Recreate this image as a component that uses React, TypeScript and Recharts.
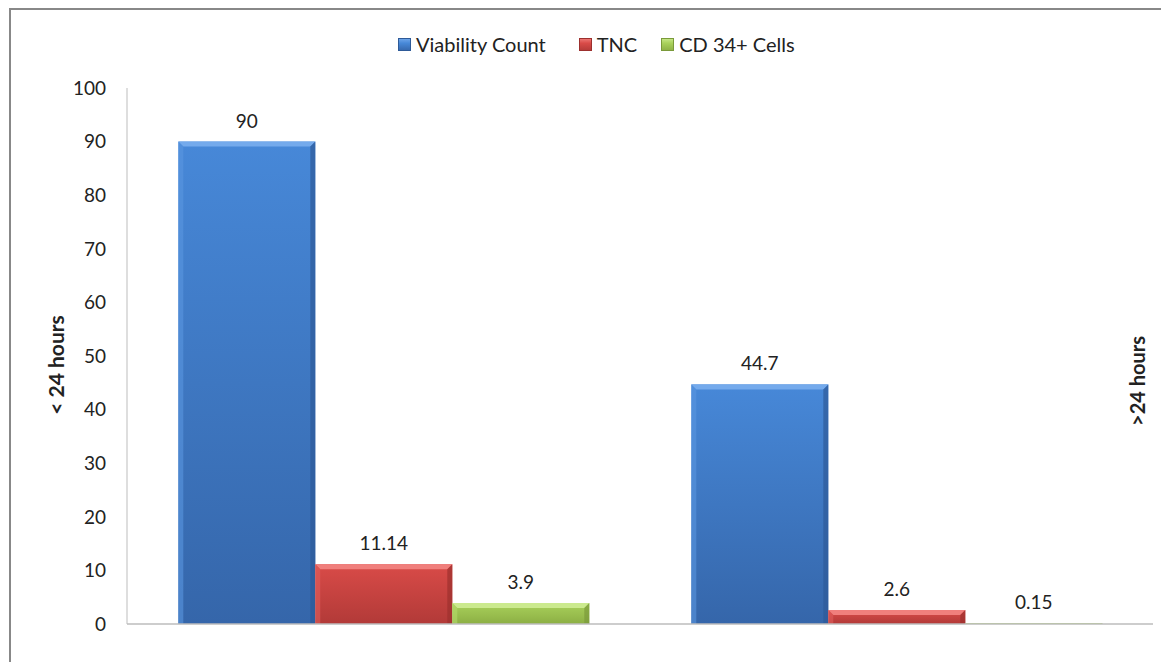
import { BarChart, Bar, XAxis, YAxis, LabelList } from "recharts";

const categories = ["< 24 hours", ">24 hours"];
const viabilityCount = [90, 44.7];
const tnc = [11.14, 2.6];
const cd34 = [3.9, 0.15];
const yTicks = [0, 10, 20, 30, 40, 50, 60, 70, 80, 90, 100];

const data = categories.map((name, i) => ({
  name,
  viability: viabilityCount[i],
  tnc: tnc[i],
  cd34: cd34[i],
}));

const palette = {
  blue: { top: "#4788D8", bottom: "#3566AA", bevel: "#74AAEC", left: "#5A96E0", right: "#2E5A98" },
  red: { top: "#D94B48", bottom: "#B23A38", bevel: "#F07F7C", left: "#E05E5B", right: "#9C302E" },
  green: { top: "#A9D15B", bottom: "#8CAF44", bevel: "#CBEA8E", left: "#B4DA6A", right: "#7A9A3A" },
};

type Shade = typeof palette.blue;

function BevelBar(props: any) {
  const { x, y, width, height, shade, gid } = props as {
    x: number; y: number; width: number; height: number; shade: Shade; gid: string;
  };
  if (!height || height <= 0) return null;
  const b = Math.min(5, height / 2, width / 2);
  return (
    <g>
      <rect x={x} y={y} width={width} height={height} fill={`url(#${gid})`} />
      <polygon
        points={`${x},${y} ${x + width},${y} ${x + width - b},${y + b} ${x + b},${y + b}`}
        fill={shade.bevel}
      />
      <polygon
        points={`${x},${y} ${x + b},${y + b} ${x + b},${y + height} ${x},${y + height}`}
        fill={shade.left}
        opacity={0.6}
      />
      <polygon
        points={`${x + width},${y} ${x + width - b},${y + b} ${x + width - b},${y + height} ${x + width},${y + height}`}
        fill={shade.right}
        opacity={0.7}
      />
    </g>
  );
}

const legendItems = [
  { label: "Viability Count", shade: palette.blue, gap: 33 },
  { label: "TNC", shade: palette.red, gap: 24 },
  { label: "CD 34+ Cells", shade: palette.green, gap: 0 },
];

export default function App() {
  return (
    <div style={{ position: "relative", width: 1153, height: 654, fontFamily: "Lato, 'Open Sans', sans-serif", color: "#222" }}>
      <div
        style={{
          position: "absolute", left: 1, top: 0, width: 1152, height: 654,
          borderLeft: "2px solid #888", borderTop: "2px solid #888", boxSizing: "border-box",
        }}
      />
      <div style={{ position: "absolute", left: 390, top: 26, display: "flex", alignItems: "center", fontSize: 20, lineHeight: "20px" }}>
        {legendItems.map((it) => (
          <div key={it.label} style={{ display: "flex", alignItems: "center", marginRight: it.gap }}>
            <span
              style={{
                display: "inline-block", width: 13, height: 13, marginRight: 5,
                background: `linear-gradient(${it.shade.bevel}, ${it.shade.top} 40%, ${it.shade.bottom})`,
                boxShadow: `inset 0 0 0 1px ${it.shade.right}`,
              }}
            />
            <span>{it.label}</span>
          </div>
        ))}
      </div>
      <div
        style={{
          position: "absolute", left: 47, top: 357, transform: "translate(-50%, -50%) rotate(-90deg)",
          fontWeight: 700, fontSize: 21, whiteSpace: "pre",
        }}
      >
        {categories[0]}
      </div>
      <div
        style={{
          position: "absolute", left: 1129, top: 373, transform: "translate(-50%, -50%) rotate(-90deg)",
          fontWeight: 700, fontSize: 20, whiteSpace: "pre",
        }}
      >
        {categories[1]}
      </div>
      <BarChart
        width={1153}
        height={654}
        data={data}
        margin={{ top: 80, right: 8, bottom: 37, left: 0 }}
        barCategoryGap="10%"
        barGap={0}
        style={{ position: "absolute", left: 0, top: 0 }}
      >
        <defs>
          {(["blue", "red", "green"] as const).map((k) => (
            <linearGradient key={k} id={`grad-${k}`} x1="0" y1="0" x2="0" y2="1">
              <stop offset="0%" stopColor={palette[k].top} />
              <stop offset="100%" stopColor={palette[k].bottom} />
            </linearGradient>
          ))}
        </defs>
        <XAxis dataKey="name" tick={false} tickLine={false} height={1} axisLine={{ stroke: "#BDBDBD", strokeWidth: 1.5 }} />
        <YAxis
          domain={[0, 100]}
          ticks={yTicks}
          width={119}
          tickLine={false}
          tickSize={0}
          tickMargin={21}
          axisLine={{ stroke: "#BDBDBD" }}
          tick={{ fill: "#222", fontSize: 19 }}
        />
        <Bar dataKey="viability" isAnimationActive={false} shape={(p: any) => <BevelBar {...p} shade={palette.blue} gid="grad-blue" />}>
          <LabelList dataKey="viability" position="top" offset={14} fill="#222" fontSize={19} />
        </Bar>
        <Bar dataKey="tnc" isAnimationActive={false} shape={(p: any) => <BevelBar {...p} shade={palette.red} gid="grad-red" />}>
          <LabelList dataKey="tnc" position="top" offset={14} fill="#222" fontSize={19} />
        </Bar>
        <Bar dataKey="cd34" isAnimationActive={false} shape={(p: any) => <BevelBar {...p} shade={palette.green} gid="grad-green" />}>
          <LabelList dataKey="cd34" position="top" offset={14} fill="#222" fontSize={19} />
        </Bar>
      </BarChart>
    </div>
  );
}
